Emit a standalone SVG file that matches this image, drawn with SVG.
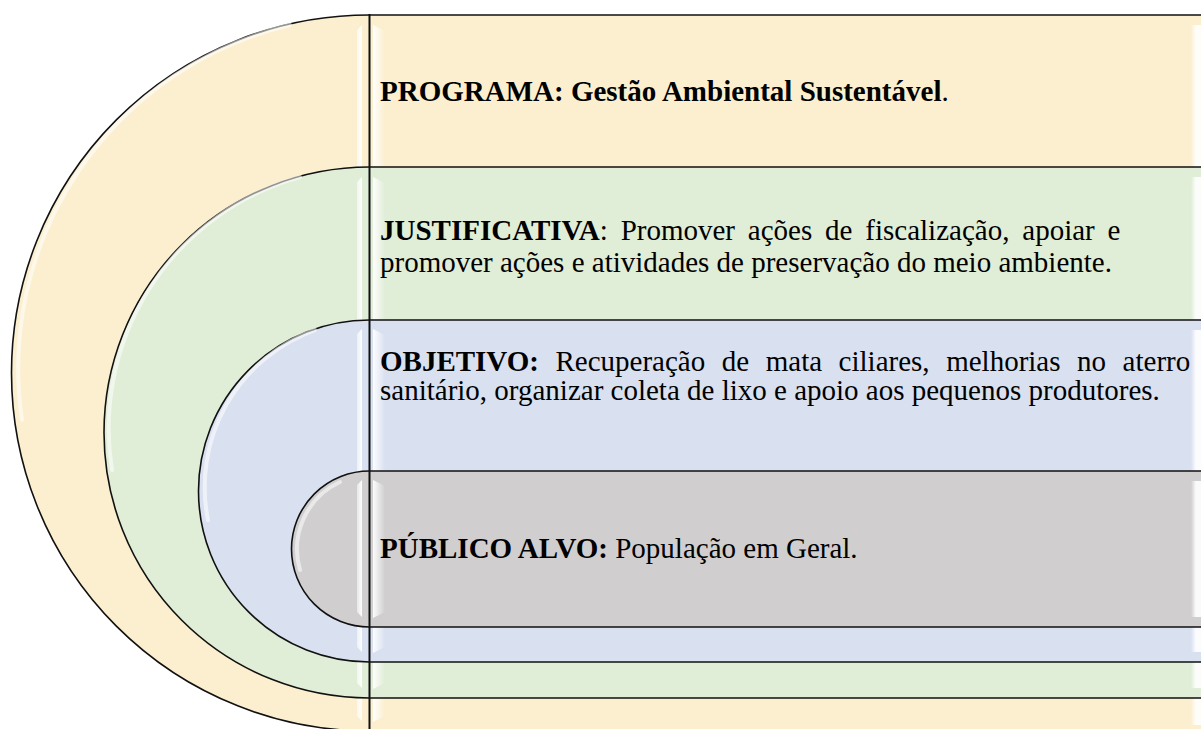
<svg xmlns="http://www.w3.org/2000/svg" width="1201" height="729" viewBox="0 0 1201 729">
  <defs>
    <linearGradient id="stripR" x1="0" y1="0" x2="1" y2="0">
      <stop offset="0" stop-color="#ffffff" stop-opacity="0.95"/>
      <stop offset="1" stop-color="#ffffff" stop-opacity="0"/>
    </linearGradient>
    <linearGradient id="stripL" x1="0" y1="0" x2="1" y2="0">
      <stop offset="0" stop-color="#ffffff" stop-opacity="0.5"/>
      <stop offset="1" stop-color="#ffffff" stop-opacity="1"/>
    </linearGradient>
    <linearGradient id="edgeR" x1="0" y1="0" x2="1" y2="0">
      <stop offset="0" stop-color="#ffffff" stop-opacity="0"/>
      <stop offset="0.4" stop-color="#ffffff" stop-opacity="0.9"/>
      <stop offset="1" stop-color="#ffffff" stop-opacity="0.9"/>
    </linearGradient>
  </defs>
  <style>
    .shape { stroke: #111111; stroke-width: 1.6; }
    .y { fill: #FBEFCF; }
    .g { fill: #E0EDD7; }
    .b { fill: #D9E0F0; }
    .k { fill: #D0CECE; }
    .hl { fill: none; stroke: #ffffff; stroke-width: 4; stroke-opacity: 0.55; stroke-linecap: round; }
    .sl { fill: url(#stripL); }
    .sr { fill: url(#stripR); }
    .er { fill: url(#edgeR); }
    .vline { stroke: #111111; stroke-width: 2; }
    text { font-family: "Liberation Serif", "Times New Roman", serif; font-size: 29px; fill: #000000; }
    .bold { font-weight: bold; }
  </style>

  <g id="node-programa">
    <path class="shape y" d="M1215 15 H369.5 A358 358 0 0 0 369.5 731 H1215 Z"/>
    <path class="hl" d="M290 25 A353 353 0 0 0 22 420"/>
    <polygon class="sl" points="357,30 362,25 362,721 357,716"/>
    <polygon class="sr" points="373,25 385,31 385,716 373,722"/>
    <rect class="er" x="1191" y="25" width="12" height="700"/>
  </g>

  <g id="node-justificativa">
    <path class="shape g" d="M1215 167 H369.5 A265.5 265.5 0 0 0 369.5 698 H1215 Z"/>
    <path class="hl" d="M300 177 A261 261 0 0 0 112 470"/>
    <polygon class="sl" points="357,182 362,177 362,688 357,683"/>
    <polygon class="sr" points="373,177 385,183 385,683 373,689"/>
    <rect class="er" x="1191" y="177" width="12" height="511"/>
  </g>

  <g id="node-objetivo">
    <path class="shape b" d="M1215 320 H369.5 A171 171 0 0 0 369.5 662 H1215 Z"/>
    <path class="hl" d="M315 330 A167 167 0 0 0 208 520"/>
    <polygon class="sl" points="357,334 362,329 362,652 357,647"/>
    <polygon class="sr" points="373,329 385,335 385,647 373,653"/>
    <rect class="er" x="1191" y="330" width="12" height="322"/>
  </g>

  <g id="node-publico">
    <path class="shape k" d="M1215 471 H369.5 A78 78 0 0 0 369.5 627 H1215 Z"/>
    <path class="hl" d="M340 482 A74 74 0 0 0 300 570"/>
    <polygon class="sl" points="357,485 362,480 362,617 357,612"/>
    <polygon class="sr" points="373,480 385,486 385,612 373,618"/>
    <rect class="er" x="1191" y="481" width="12" height="136"/>
  </g>

  <g id="connectors">
    <line class="vline" x1="369.5" y1="14" x2="369.5" y2="729"/>
  </g>

  <g id="labels">
    <text x="380" y="101"><tspan class="bold">PROGRAMA: Gestão Ambiental Sustentável</tspan>.</text>
    <text x="380" y="240" word-spacing="5.6"><tspan class="bold">JUSTIFICATIVA</tspan>: Promover ações de fiscalização, apoiar e</text>
    <text x="380" y="272">promover ações e atividades de preservação do meio ambiente.</text>
    <text x="380" y="371" word-spacing="9.3"><tspan class="bold">OBJETIVO:</tspan> Recuperação de mata ciliares, melhorias no aterro</text>
    <text x="380" y="400">sanitário, organizar coleta de lixo e apoio aos pequenos produtores.</text>
    <text x="380" y="558"><tspan class="bold">PÚBLICO ALVO:</tspan> População em Geral.</text>
  </g>
</svg>
